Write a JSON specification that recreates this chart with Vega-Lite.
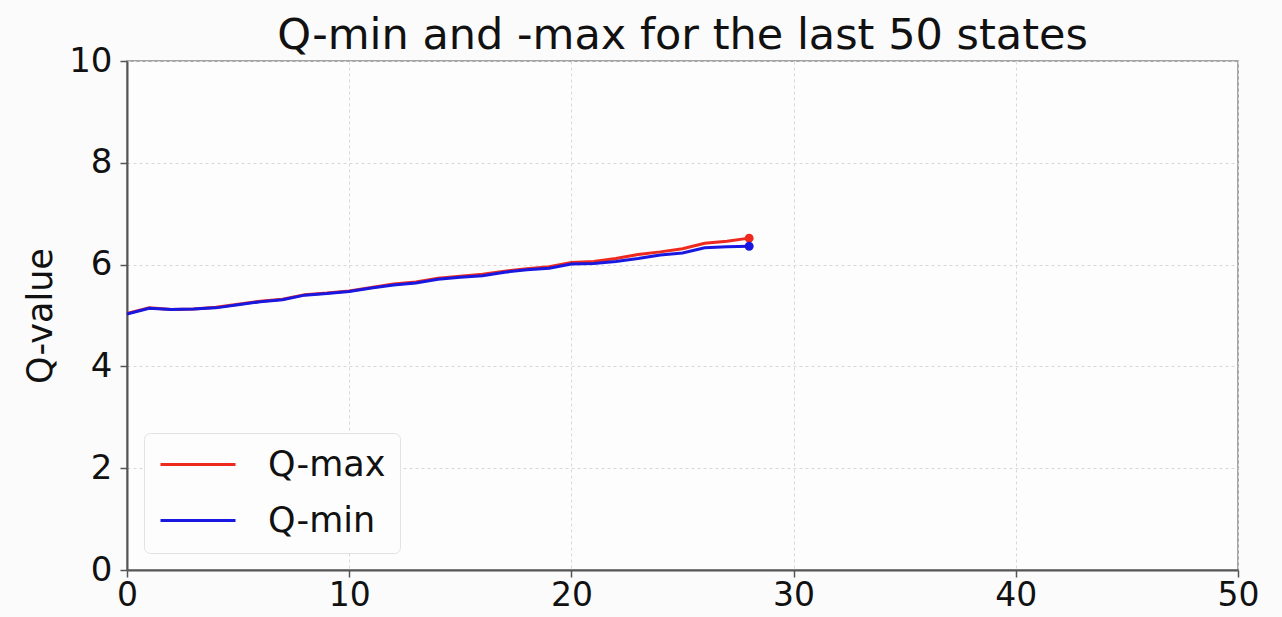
{
  "$schema": "https://vega.github.io/schema/vega-lite/v6.json",
  "width": 1111,
  "height": 509,
  "autosize": {"type": "none"},
  "padding": {"left": 127, "top": 61, "right": 44, "bottom": 47},
  "background": "#fbfbfb",
  "title": {
    "text": "Q-min and -max for the last 50 states",
    "font": "DejaVu Sans",
    "fontSize": 43,
    "fontWeight": "normal",
    "color": "#111111",
    "anchor": "middle",
    "offset": -14
  },
  "config": {
    "view": {"stroke": "#888888", "strokeWidth": 1.5, "fill": "#fdfdfd"},
    "axis": {
      "labelFont": "DejaVu Sans",
      "titleFont": "DejaVu Sans",
      "labelFontSize": 34,
      "titleFontSize": 35,
      "titleFontWeight": "normal",
      "labelColor": "#111111",
      "titleColor": "#111111",
      "domainColor": "#555555",
      "domainWidth": 2,
      "tickColor": "#555555",
      "tickWidth": 1.5,
      "tickSize": 7,
      "gridColor": "#d8d8d8",
      "gridDash": [3, 3],
      "gridWidth": 1
    }
  },
  "data": {
    "values": [
      {"x": 0, "q": 5.04, "series": "Q-max"}, {"x": 1, "q": 5.15, "series": "Q-max"},
      {"x": 2, "q": 5.12, "series": "Q-max"}, {"x": 3, "q": 5.13, "series": "Q-max"},
      {"x": 4, "q": 5.16, "series": "Q-max"}, {"x": 5, "q": 5.22, "series": "Q-max"},
      {"x": 6, "q": 5.28, "series": "Q-max"}, {"x": 7, "q": 5.32, "series": "Q-max"},
      {"x": 8, "q": 5.41, "series": "Q-max"}, {"x": 9, "q": 5.44, "series": "Q-max"},
      {"x": 10, "q": 5.48, "series": "Q-max"}, {"x": 11, "q": 5.55, "series": "Q-max"},
      {"x": 12, "q": 5.62, "series": "Q-max"}, {"x": 13, "q": 5.66, "series": "Q-max"},
      {"x": 14, "q": 5.73, "series": "Q-max"}, {"x": 15, "q": 5.77, "series": "Q-max"},
      {"x": 16, "q": 5.81, "series": "Q-max"}, {"x": 17, "q": 5.87, "series": "Q-max"},
      {"x": 18, "q": 5.92, "series": "Q-max"}, {"x": 19, "q": 5.96, "series": "Q-max"},
      {"x": 20, "q": 6.04, "series": "Q-max"}, {"x": 21, "q": 6.06, "series": "Q-max"},
      {"x": 22, "q": 6.12, "series": "Q-max"}, {"x": 23, "q": 6.20, "series": "Q-max"},
      {"x": 24, "q": 6.25, "series": "Q-max"}, {"x": 25, "q": 6.31, "series": "Q-max"},
      {"x": 26, "q": 6.42, "series": "Q-max"}, {"x": 27, "q": 6.46, "series": "Q-max"},
      {"x": 28, "q": 6.52, "series": "Q-max"},
      {"x": 0, "q": 5.03, "series": "Q-min"}, {"x": 1, "q": 5.14, "series": "Q-min"},
      {"x": 2, "q": 5.12, "series": "Q-min"}, {"x": 3, "q": 5.13, "series": "Q-min"},
      {"x": 4, "q": 5.15, "series": "Q-min"}, {"x": 5, "q": 5.21, "series": "Q-min"},
      {"x": 6, "q": 5.27, "series": "Q-min"}, {"x": 7, "q": 5.31, "series": "Q-min"},
      {"x": 8, "q": 5.40, "series": "Q-min"}, {"x": 9, "q": 5.43, "series": "Q-min"},
      {"x": 10, "q": 5.47, "series": "Q-min"}, {"x": 11, "q": 5.54, "series": "Q-min"},
      {"x": 12, "q": 5.60, "series": "Q-min"}, {"x": 13, "q": 5.64, "series": "Q-min"},
      {"x": 14, "q": 5.71, "series": "Q-min"}, {"x": 15, "q": 5.75, "series": "Q-min"},
      {"x": 16, "q": 5.78, "series": "Q-min"}, {"x": 17, "q": 5.85, "series": "Q-min"},
      {"x": 18, "q": 5.90, "series": "Q-min"}, {"x": 19, "q": 5.93, "series": "Q-min"},
      {"x": 20, "q": 6.01, "series": "Q-min"}, {"x": 21, "q": 6.02, "series": "Q-min"},
      {"x": 22, "q": 6.06, "series": "Q-min"}, {"x": 23, "q": 6.12, "series": "Q-min"},
      {"x": 24, "q": 6.19, "series": "Q-min"}, {"x": 25, "q": 6.23, "series": "Q-min"},
      {"x": 26, "q": 6.33, "series": "Q-min"}, {"x": 27, "q": 6.35, "series": "Q-min"},
      {"x": 28, "q": 6.36, "series": "Q-min"}
    ]
  },
  "encoding": {
    "x": {
      "field": "x", "type": "quantitative",
      "scale": {"domain": [0, 50], "nice": false, "zero": false},
      "axis": {"title": null, "values": [0, 10, 20, 30, 40, 50], "labelPadding": 2, "labelFontSize": 33, "labelFlush": false}
    },
    "y": {
      "field": "q", "type": "quantitative",
      "scale": {"domain": [0, 10], "nice": false},
      "axis": {"title": "Q-value", "values": [0, 2, 4, 6, 8, 10], "labelPadding": 8, "titlePadding": 10}
    },
    "color": {
      "field": "series", "type": "nominal",
      "scale": {"domain": ["Q-max", "Q-min"], "range": ["#ee2a1e", "#1818e0"]},
      "legend": {
        "title": null,
        "orient": "bottom-left",
        "offset": 17,
        "padding": 14,
        "fillColor": "#fdfdfd",
        "strokeColor": "#e2e2e2",
        "cornerRadius": 6,
        "labelFont": "DejaVu Sans",
        "labelFontSize": 35,
        "labelColor": "#111111",
        "labelOffset": 75,
        "symbolType": "M-1,0H4",
        "symbolSize": 900,
        "symbolStrokeWidth": 3,
        "rowPadding": 20
      }
    }
  },
  "layer": [
    {"mark": {"type": "line", "strokeWidth": 3}},
    {
      "transform": [{"filter": "datum.x == 28"}],
      "mark": {"type": "circle", "size": 80, "opacity": 1}
    }
  ]
}
